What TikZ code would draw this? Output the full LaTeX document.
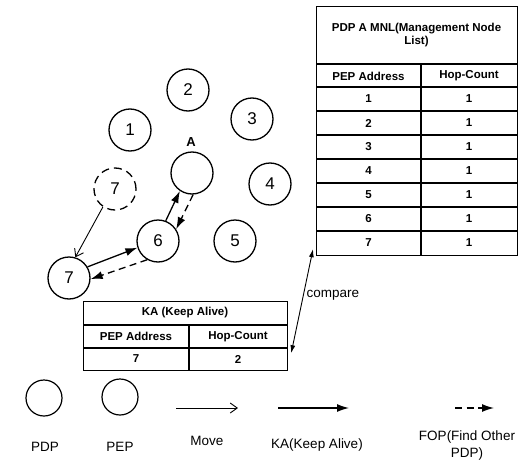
\documentclass[tikz,border=0pt]{standalone}
\usepackage{fontspec}
\setmainfont{Liberation Sans}
\usetikzlibrary{arrows.meta,calc}
\tikzset{
  pep/.style={circle,draw,line width=1.3pt,minimum size=42pt,inner sep=0pt,font=\fontsize{17}{19}\selectfont},
  leg/.style={circle,draw,line width=1.2pt,minimum size=36pt,inner sep=0pt},
  ka/.style={line width=1.3pt,-{Latex[length=12pt,width=8pt]}},
  fop/.style={line width=1.3pt,dash pattern=on 7pt off 4.5pt,-{Latex[length=12pt,width=8pt]}},
  mv/.style={line width=0.9pt,-{Straight Barb[length=7pt,width=10pt]}},
  cmp/.style={line width=0.9pt,{Latex[length=8pt,width=5pt]}-{Latex[length=8pt,width=5pt]}},
  tb/.style={font=\fontsize{11.5}{13}\selectfont\bfseries},
  lbl/.style={font=\fontsize{13.5}{15}\selectfont,align=center},
  tbl/.style={draw,line width=1.2pt,inner sep=0pt,anchor=north west},
  grid/.style={line width=1.1pt}
}
\begin{document}
\begin{tikzpicture}[x=1pt,y=-1pt]
\useasboundingbox (0,0) rectangle (522,463);
% network
\node[pep] (n2) at (188,90) {2};
\node[pep] (n1) at (130,130) {1};
\node[pep] (n3) at (252,119) {3};
\node[pep] (a) at (192,173) {};
\node[font=\fontsize{13}{15}\selectfont\bfseries] (alab) at (191,142) {A};
\node[pep,dash pattern=on 8pt off 5pt] (d7) at (115,189) {7};
\node[pep] (n4) at (270,184) {4};
\node[pep] (n6) at (158,241) {6};
\node[pep] (n5) at (235,241) {5};
\node[pep] (s7) at (69,278) {7};
\draw[mv] (d7.236) -- (s7.73);
\draw[ka] (s7.31) -- (n6.198);
\draw[fop] (n6.240) -- (s7.-3);
\draw[ka] (n6.69) -- (a.236);
\draw[fop] (a.-87) -- (n6.33);
% MNL table
\node[tbl,minimum width=201pt,minimum height=249pt] (mnl) at (316,6) {};
\draw[grid] (316,64) -- (517,64);
\foreach \y in {87,111,135,159,183,207,231} \draw[grid] (316,\y) -- (517,\y);
\draw[grid] (421,64) -- (421,255);
\node[tb,align=center] (mt) at (416.5,35) {PDP A MNL(Management Node\\List)};
\node[tb] (mh1) at (368.5,76) {PEP Address};
\node[tb] (mh2) at (469,76) {Hop-Count};
\foreach \i/\y in {1/99,2/123,3/147,4/171,5/195,6/219,7/243}{
  \node[tb] (ma\i) at (368.5,\y) {\i};
  \node[tb] (mb\i) at (469,\y) {1};
}
% KA table
\node[tbl,minimum width=204pt,minimum height=69pt] (kat) at (83,301) {};
\draw[grid] (83,325) -- (287,325);
\draw[grid] (83,348) -- (287,348);
\draw[grid] (189,325) -- (189,370);
\node[tb] (kt) at (185,313) {KA (Keep Alive)};
\node[tb] (kh1) at (136,336.5) {PEP Address};
\node[tb] (kh2) at (238,336.5) {Hop-Count};
\node[tb] (kv1) at (136,359) {7};
\node[tb] (kv2) at (238,359) {2};
% compare
\coordinate (c1) at ($(kat.south east)+(3,-18)$);
\coordinate (c2) at ($(mnl.south west)+(-3,-7)$);
\draw[cmp] (c1) -- (c2);
\node[lbl,anchor=west] (cmpl) at (303,295) {compare};
% legend
\node[leg] (lpdp) at (44,398) {};
\node[leg] (lpep) at (120,397) {};
\coordinate (m1) at (176,408); \coordinate (m2) at (238,408);
\draw[mv] (m1) -- (m2);
\coordinate (k1) at (278,408); \coordinate (k2) at (349,408);
\draw[ka] (k1) -- (k2);
\coordinate (f1) at (455,408); \coordinate (f2) at (494,408);
\draw[fop] (f1) -- (f2);
\node[lbl] (t1) at (45,447) {PDP};
\node[lbl] (t2) at (120,447) {PEP};
\node[lbl] (t3) at (207,441) {Move};
\node[lbl] (t4) at (317,445) {KA(Keep Alive)};
\node[lbl,font=\fontsize{13.5}{17}\selectfont] (t5) at (467,446) {FOP(Find Other\\PDP)};
\end{tikzpicture}
\end{document}
